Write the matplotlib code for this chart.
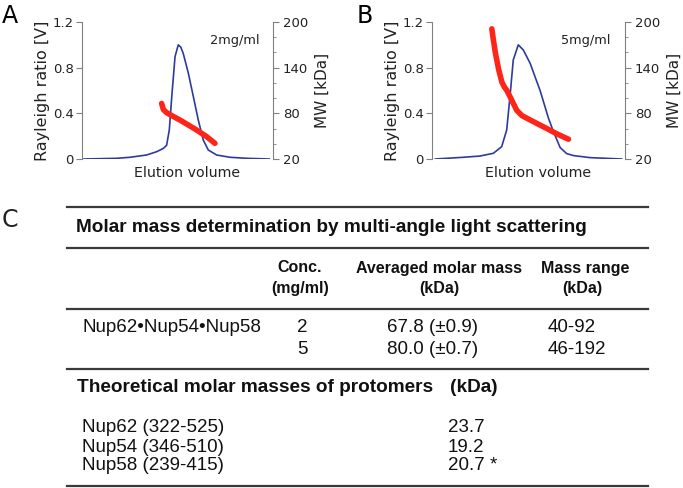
import matplotlib
matplotlib.use('Agg')
import matplotlib.pyplot as plt

# --- chromatogram data (elution volume in arbitrary units 0-100) ---
a_rayleigh_x = [1, 18, 25.1, 33.8, 39.1, 42.6, 44.3, 45.7, 47.0, 48.7, 50.4, 51.7, 53.0, 55.7,
                58.3, 60.9, 63.5, 66.1, 70.5, 77.5, 86.2, 98]
a_rayleigh_y = [0, 0.006, 0.015, 0.035, 0.064, 0.093, 0.12, 0.254, 0.546, 0.896, 1.0, 0.98, 0.925, 0.75,
                0.546, 0.34, 0.166, 0.079, 0.035, 0.015, 0.006, 0.0]
a_mw_x = [41.7, 42.6, 44.3, 47.8, 51.3, 56.5, 60, 65.3, 69.6]
a_mw_y = [93, 85, 80.9, 75.9, 71.2, 63.4, 58.1, 49.3, 40.6]

b_rayleigh_x = [1.7, 16.2, 24.9, 31.8, 36.1, 38.7, 40.4, 42.1, 44.7, 47.3, 50.8, 56, 60.3, 62.9,
                66.4, 69.8, 73.3, 81.9, 98.3]
b_rayleigh_y = [0, 0.015, 0.026, 0.05, 0.108, 0.254, 0.546, 0.867, 1.0, 0.955, 0.84, 0.6, 0.36, 0.24,
                0.1, 0.047, 0.03, 0.012, 0.0]
b_mw_x = [31, 31.6, 32.8, 34.5, 36.2, 37.4, 38.8, 40.4, 43.9, 46.6, 52.6, 59.5, 64.7, 70.7]
b_mw_y = [191, 180, 160, 138, 121, 115, 110, 102, 84, 77, 69, 60, 53, 46]

concentrations = ['2mg/ml', '5mg/ml']

# --- table C ---
complex_name = 'Nup62\u2022Nup54\u2022Nup58'
conc_values = ['2', '5']
avg_mass = ['67.8 (\u00b10.9)', '80.0 (\u00b10.7)']
mass_range = ['40-92', '46-192']
protomers = ['Nup62 (322-525)', 'Nup54 (346-510)', 'Nup58 (239-415)']
protomer_mass = ['23.7', '19.2', '20.7 *']

BLUE = '#2f3a9e'
RED = '#ff2418'
GRAY = '#808080'

fig = plt.figure(figsize=(6.83, 4.88), dpi=100)
W, H = 683, 488


def px_axes(x0, y0, x1, y1):
    return fig.add_axes([x0 / W, 1 - y1 / H, (x1 - x0) / W, (y1 - y0) / H])


def sec_panel(ax, rx, ry, mx, my, conc):
    ax.plot(rx, ry, color=BLUE, lw=1.2)
    ax.set_xlim(0, 100)
    ax.set_ylim(0, 1.2)
    ax.set_yticks([0, 0.4, 0.8, 1.2])
    ax.set_yticklabels(['0', '0.4', '0.8', '1.2'])
    ax.set_xticks([])
    for s in ['top', 'bottom', 'right']:
        ax.spines[s].set_visible(False)
    ax.spines['left'].set_color(GRAY)
    ax.tick_params(axis='y', length=4, color=GRAY, labelsize=9.5, pad=2, labelcolor='#222')
    ax.set_ylabel('Rayleigh ratio [V]', fontsize=11.5, color='#222', labelpad=2)
    ax.set_xlabel('Elution volume', fontsize=10.2, color='#222')
    ax.xaxis.set_label_coords(0.55, -0.05)
    ax.text(0.67, 0.84, conc, transform=ax.transAxes, fontsize=9.3, color='#222')

    ax2 = ax.twinx()
    ax2.plot(mx, my, color=RED, lw=4, solid_capstyle='round', solid_joinstyle='round')
    ax2.set_ylim(20, 200)
    ax2.set_yticks([20, 80, 140, 200])
    ax2.set_yticks([40, 60, 100, 120, 160, 180], minor=True)
    for s in ['top', 'bottom', 'left']:
        ax2.spines[s].set_visible(False)
    ax2.spines['right'].set_color(GRAY)
    ax2.tick_params(axis='y', which='major', length=4, color=GRAY, labelsize=9.5, pad=3, labelcolor='#222')
    ax2.tick_params(axis='y', which='minor', length=2.5, color=GRAY)
    ax2.set_ylabel('MW [kDa]', fontsize=11, color='#222', labelpad=5)
    return ax2


axA = px_axes(82, 22, 273, 159)
sec_panel(axA, a_rayleigh_x, a_rayleigh_y, a_mw_x, a_mw_y, concentrations[0])
axB = px_axes(432, 22, 625, 159)
sec_panel(axB, b_rayleigh_x, b_rayleigh_y, b_mw_x, b_mw_y, concentrations[1])

fig.text(2 / W, 1 - 4 / H, 'A', fontsize=17, va='top', ha='left')
fig.text(357 / W, 1 - 4 / H, 'B', fontsize=17, va='top', ha='left')
fig.text(2 / W, 1 - 208 / H, 'C', fontsize=17, va='top', ha='left', color='#222')

# overlay axes in pixel coordinates for the table
tab = fig.add_axes([0, 0, 1, 1], zorder=-1)
tab.set_xlim(0, W)
tab.set_ylim(H, 0)
tab.axis('off')

rule_kw = dict(color='#3a3a3a', lw=1.6)
for y in [207, 248, 309, 369, 486]:
    tab.plot([67, 648], [y, y], **rule_kw)

font = 'Liberation Sans'
body = dict(fontsize=13.5, family=font, color='#111', va='center')
head = dict(fontsize=11.5, family=font, color='#111', va='center', fontweight='bold', ha='center')
bold = dict(fontsize=13.7, family=font, color='#111', va='center', fontweight='bold')

tab.text(76, 228, 'Molar mass determination by multi-angle light scattering', **bold)
tab.text(300, 268, 'Conc.', **head)
tab.text(300, 288, '(mg/ml)', **head)
tab.text(439, 268, 'Averaged molar mass', **head)
tab.text(439, 288, '(kDa)', **head)
tab.text(585, 268, 'Mass range', **head)
tab.text(582, 288, '(kDa)', **head)

row_y = [328, 350]
tab.text(82, row_y[0], complex_name, **body)
for i in range(2):
    tab.text(302, row_y[i], conc_values[i], ha='center', **body)
    tab.text(387, row_y[i], avg_mass[i], ha='left', **body)
    tab.text(548, row_y[i], mass_range[i], ha='left', **body)

tab.text(77, 388, 'Theoretical molar masses of protomers', **bold)
tab.text(450, 388, '(kDa)', **bold)
prot_y = [427, 447, 466]
for i in range(3):
    tab.text(82, prot_y[i], protomers[i], **body)
    tab.text(448, prot_y[i], protomer_mass[i], **body)

fig.savefig('out.png', dpi=100)
